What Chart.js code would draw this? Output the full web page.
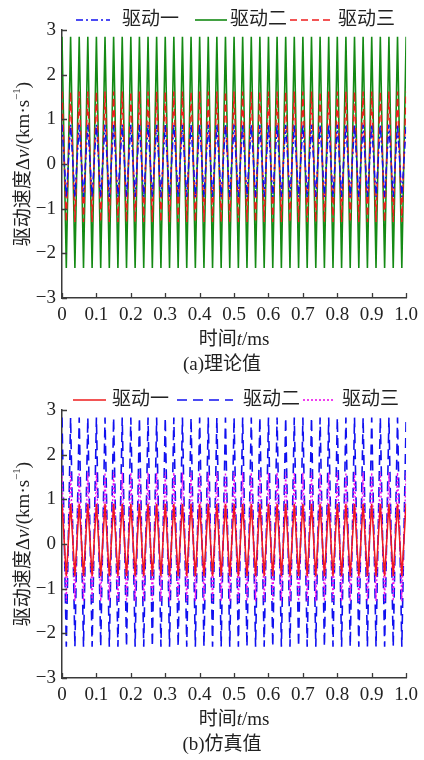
<!DOCTYPE html>
<html>
<head>
<meta charset="utf-8">
<script src="https://cdn.jsdelivr.net/npm/chart.js@4.4.1/dist/chart.umd.min.js"></script>
<style>
  html, body { margin: 0; padding: 0; background: #fff; }
  #wrap { position: relative; width: 424px; height: 760px; }
  canvas { position: absolute; left: 0; }
</style>
</head>
<body>
<div id="wrap">
  <canvas id="chartA" width="424" height="380" style="top:0"></canvas>
  <canvas id="chartB" width="424" height="380" style="top:380px"></canvas>
</div>
<script>
// time in ms: peaks and troughs of each drive signal
const times = [
  0, 0.0125, 0.025, 0.0375, 0.05, 0.0625, 0.075, 0.0875, 0.1, 0.1125,
  0.125, 0.1375, 0.15, 0.1625, 0.175, 0.1875, 0.2, 0.2125, 0.225, 0.2375,
  0.25, 0.2625, 0.275, 0.2875, 0.3, 0.3125, 0.325, 0.3375, 0.35, 0.3625,
  0.375, 0.3875, 0.4, 0.4125, 0.425, 0.4375, 0.45, 0.4625, 0.475, 0.4875,
  0.5, 0.5125, 0.525, 0.5375, 0.55, 0.5625, 0.575, 0.5875, 0.6, 0.6125,
  0.625, 0.6375, 0.65, 0.6625, 0.675, 0.6875, 0.7, 0.7125, 0.725, 0.7375,
  0.75, 0.7625, 0.775, 0.7875, 0.8, 0.8125, 0.825, 0.8375, 0.85, 0.8625,
  0.875, 0.8875, 0.9, 0.9125, 0.925, 0.9375, 0.95, 0.9625, 0.975, 0.9875,
  1
];

// (a) theoretical values, km/s
const drive1Theory = [
  0.88, -0.74, 0.88, -0.74, 0.88, -0.74, 0.88, -0.74, 0.88, -0.74,
  0.88, -0.74, 0.88, -0.74, 0.88, -0.74, 0.88, -0.74, 0.88, -0.74,
  0.88, -0.74, 0.88, -0.74, 0.88, -0.74, 0.88, -0.74, 0.88, -0.74,
  0.88, -0.74, 0.88, -0.74, 0.88, -0.74, 0.88, -0.74, 0.88, -0.74,
  0.88, -0.74, 0.88, -0.74, 0.88, -0.74, 0.88, -0.74, 0.88, -0.74,
  0.88, -0.74, 0.88, -0.74, 0.88, -0.74, 0.88, -0.74, 0.88, -0.74,
  0.88, -0.74, 0.88, -0.74, 0.88, -0.74, 0.88, -0.74, 0.88, -0.74,
  0.88, -0.74, 0.88, -0.74, 0.88, -0.74, 0.88, -0.74, 0.88, -0.74,
  0.88
];
const drive2Theory = [
  2.85, -2.33, 2.85, -2.33, 2.85, -2.33, 2.85, -2.33, 2.85, -2.33,
  2.85, -2.33, 2.85, -2.33, 2.85, -2.33, 2.85, -2.33, 2.85, -2.33,
  2.85, -2.33, 2.85, -2.33, 2.85, -2.33, 2.85, -2.33, 2.85, -2.33,
  2.85, -2.33, 2.85, -2.33, 2.85, -2.33, 2.85, -2.33, 2.85, -2.33,
  2.85, -2.33, 2.85, -2.33, 2.85, -2.33, 2.85, -2.33, 2.85, -2.33,
  2.85, -2.33, 2.85, -2.33, 2.85, -2.33, 2.85, -2.33, 2.85, -2.33,
  2.85, -2.33, 2.85, -2.33, 2.85, -2.33, 2.85, -2.33, 2.85, -2.33,
  2.85, -2.33, 2.85, -2.33, 2.85, -2.33, 2.85, -2.33, 2.85, -2.33,
  2.85
];
const drive3Theory = [
  1.62, -1.3, 1.62, -1.3, 1.62, -1.3, 1.62, -1.3, 1.62, -1.3,
  1.62, -1.3, 1.62, -1.3, 1.62, -1.3, 1.62, -1.3, 1.62, -1.3,
  1.62, -1.3, 1.62, -1.3, 1.62, -1.3, 1.62, -1.3, 1.62, -1.3,
  1.62, -1.3, 1.62, -1.3, 1.62, -1.3, 1.62, -1.3, 1.62, -1.3,
  1.62, -1.3, 1.62, -1.3, 1.62, -1.3, 1.62, -1.3, 1.62, -1.3,
  1.62, -1.3, 1.62, -1.3, 1.62, -1.3, 1.62, -1.3, 1.62, -1.3,
  1.62, -1.3, 1.62, -1.3, 1.62, -1.3, 1.62, -1.3, 1.62, -1.3,
  1.62, -1.3, 1.62, -1.3, 1.62, -1.3, 1.62, -1.3, 1.62, -1.3,
  1.62
];

// (b) simulated values, km/s
const drive1Sim = [
  0.9, -0.72, 0.9, -0.72, 0.9, -0.72, 0.9, -0.72, 0.9, -0.72,
  0.9, -0.72, 0.9, -0.72, 0.9, -0.72, 0.9, -0.72, 0.9, -0.72,
  0.9, -0.72, 0.9, -0.72, 0.9, -0.72, 0.9, -0.72, 0.9, -0.72,
  0.9, -0.72, 0.9, -0.72, 0.9, -0.72, 0.9, -0.72, 0.9, -0.72,
  0.9, -0.72, 0.9, -0.72, 0.9, -0.72, 0.9, -0.72, 0.9, -0.72,
  0.9, -0.72, 0.9, -0.72, 0.9, -0.72, 0.9, -0.72, 0.9, -0.72,
  0.9, -0.72, 0.9, -0.72, 0.9, -0.72, 0.9, -0.72, 0.9, -0.72,
  0.9, -0.72, 0.9, -0.72, 0.9, -0.72, 0.9, -0.72, 0.9, -0.72,
  0.9
];
const drive2Sim = [
  2.83, -2.3, 2.83, -2.3, 2.83, -2.3, 2.83, -2.3, 2.83, -2.3,
  2.83, -2.3, 2.83, -2.3, 2.83, -2.3, 2.83, -2.3, 2.83, -2.3,
  2.83, -2.3, 2.83, -2.3, 2.83, -2.3, 2.83, -2.3, 2.83, -2.3,
  2.83, -2.3, 2.83, -2.3, 2.83, -2.3, 2.83, -2.3, 2.83, -2.3,
  2.83, -2.3, 2.83, -2.3, 2.83, -2.3, 2.83, -2.3, 2.83, -2.3,
  2.83, -2.3, 2.83, -2.3, 2.83, -2.3, 2.83, -2.3, 2.83, -2.3,
  2.83, -2.3, 2.83, -2.3, 2.83, -2.3, 2.83, -2.3, 2.83, -2.3,
  2.83, -2.3, 2.83, -2.3, 2.83, -2.3, 2.83, -2.3, 2.83, -2.3,
  2.83
];
const drive3Sim = [
  1.6, -1.28, 1.6, -1.28, 1.6, -1.28, 1.6, -1.28, 1.6, -1.28,
  1.6, -1.28, 1.6, -1.28, 1.6, -1.28, 1.6, -1.28, 1.6, -1.28,
  1.6, -1.28, 1.6, -1.28, 1.6, -1.28, 1.6, -1.28, 1.6, -1.28,
  1.6, -1.28, 1.6, -1.28, 1.6, -1.28, 1.6, -1.28, 1.6, -1.28,
  1.6, -1.28, 1.6, -1.28, 1.6, -1.28, 1.6, -1.28, 1.6, -1.28,
  1.6, -1.28, 1.6, -1.28, 1.6, -1.28, 1.6, -1.28, 1.6, -1.28,
  1.6, -1.28, 1.6, -1.28, 1.6, -1.28, 1.6, -1.28, 1.6, -1.28,
  1.6, -1.28, 1.6, -1.28, 1.6, -1.28, 1.6, -1.28, 1.6, -1.28,
  1.6
];

const seriesNames = ['驱动一', '驱动二', '驱动三'];
const xTickLabels = ['0', '0.1', '0.2', '0.3', '0.4', '0.5', '0.6', '0.7', '0.8', '0.9', '1.0'];
const yTickLabels = ['\u22123', '\u22122', '\u22121', '0', '1', '2', '3'];

const FONT = '"Liberation Serif", "Noto Sans CJK SC", serif';
const AXIS = '#3a3a3a';

const yTitle = [
  { t: '驱动速度Δ' }, { t: 'v', italic: true }, { t: '/(km·s' }, { t: '−1', sup: true }, { t: ')' }
];
const xTitle = [{ t: '时间' }, { t: 't', italic: true }, { t: '/ms' }];

function fontFor(seg, size) {
  return (seg.italic ? 'italic ' : '') + (seg.sup ? Math.round(size * 0.6) : size) + 'px ' + FONT;
}

function drawRich(ctx, segs, cx, cy, rot, size) {
  let total = 0;
  segs.forEach(s => { ctx.font = fontFor(s, size); s.w = ctx.measureText(s.t).width; total += s.w; });
  ctx.save();
  ctx.translate(cx, cy);
  ctx.rotate(rot);
  ctx.fillStyle = '#222';
  ctx.textBaseline = 'middle';
  ctx.textAlign = 'left';
  let x = -total / 2;
  segs.forEach(s => {
    ctx.font = fontFor(s, size);
    ctx.fillText(s.t, x, s.sup ? -size * 0.38 : 0);
    x += s.w;
  });
  ctx.restore();
}

// inward tick marks, axis titles, legend and caption
const axisDecor = {
  id: 'axisDecor',
  afterDraw(chart, args, opts) {
    const { ctx, chartArea: a, scales: { x, y } } = chart;
    ctx.save();
    ctx.strokeStyle = AXIS;
    ctx.lineWidth = 1.3;
    ctx.beginPath();
    x.ticks.forEach(t => {
      const px = Math.round(x.getPixelForValue(t.value)) + 0.5;
      ctx.moveTo(px, a.bottom);
      ctx.lineTo(px, a.bottom - 5);
    });
    y.ticks.forEach(t => {
      const py = Math.round(y.getPixelForValue(t.value)) + 0.5;
      ctx.moveTo(a.left, py);
      ctx.lineTo(a.left + 5, py);
    });
    ctx.stroke();

    // legend
    chart.data.datasets.forEach((ds, i) => {
      const it = opts.legend[i];
      ctx.strokeStyle = ds.borderColor;
      ctx.lineWidth = 1.6;
      ctx.setLineDash(ds.borderDash || []);
      ctx.beginPath();
      ctx.moveTo(it[0], 20);
      ctx.lineTo(it[1], 20);
      ctx.stroke();
      ctx.setLineDash([]);
      ctx.fillStyle = '#222';
      ctx.font = '19px ' + FONT;
      ctx.textBaseline = 'middle';
      ctx.textAlign = 'left';
      ctx.fillText(ds.label, it[2], 20);
    });

    // caption
    ctx.font = '19px ' + FONT;
    ctx.textAlign = 'center';
    ctx.fillText(opts.caption, 222, 365);
    ctx.restore();

    drawRich(ctx, xTitle, (a.left + a.right) / 2, a.bottom + 42, 0, 19);
    drawRich(ctx, yTitle, 24, (a.top + a.bottom) / 2, -Math.PI / 2, 19);
  }
};

function makeChart(id, caption, legendPos, datasets) {
  return new Chart(document.getElementById(id), {
    type: 'line',
    data: {
      datasets: datasets.map(d => ({
        label: d.label,
        data: times.map((t, i) => ({ x: t, y: d.values[i] })),
        borderColor: d.color,
        borderWidth: d.width,
        borderDash: d.dash,
        order: d.order,
        pointRadius: 0,
        tension: 0,
        fill: false
      }))
    },
    options: {
      responsive: false,
      animation: false,
      layout: { padding: { left: 0, right: 17, top: 30, bottom: 27 } },
      plugins: {
        legend: { display: false },
        title: { display: false },
        tooltip: { enabled: false },
        axisDecor: { caption: caption, legend: legendPos }
      },
      scales: {
        x: {
          type: 'linear',
          min: 0,
          max: 1,
          ticks: {
            stepSize: 0.1,
            autoSkip: false,
            maxRotation: 0,
            padding: 6,
            color: '#222',
            font: { family: FONT, size: 19 },
            callback: (v, i) => xTickLabels[i]
          },
          grid: { display: false, drawTicks: false },
          border: { color: AXIS, width: 1.5 },
          afterFit: s => { s.height = 55; }
        },
        y: {
          min: -3,
          max: 3,
          ticks: {
            stepSize: 1,
            padding: 6,
            color: '#222',
            font: { family: FONT, size: 19 },
            callback: (v, i) => yTickLabels[i]
          },
          grid: { display: false, drawTicks: false },
          border: { color: AXIS, width: 1.5 },
          afterFit: s => { s.width = 62; }
        }
      }
    },
    plugins: [axisDecor]
  });
}

makeChart('chartA', '(a)理论值', [[76, 110, 122], [195, 227, 230], [290, 333, 338]], [
  { label: seriesNames[0], values: drive1Theory, color: '#1010f0', width: 1.5, dash: [7, 3, 2, 3], order: 0 },
  { label: seriesNames[1], values: drive2Theory, color: '#148a14', width: 1.6, dash: [], order: 2 },
  { label: seriesNames[2], values: drive3Theory, color: '#ee1c1c', width: 1.5, dash: [7, 4], order: 1 }
]);

makeChart('chartB', '(b)仿真值', [[73, 106, 112], [177, 233, 243], [303, 333, 342]], [
  { label: seriesNames[0], values: drive1Sim, color: '#ee1c1c', width: 1.5, dash: [], order: 0 },
  { label: seriesNames[1], values: drive2Sim, color: '#1010f0', width: 1.6, dash: [10, 6], order: 2 },
  { label: seriesNames[2], values: drive3Sim, color: '#ee10ee', width: 1.3, dash: [2, 2], order: 1 }
]);
</script>
</body>
</html>
